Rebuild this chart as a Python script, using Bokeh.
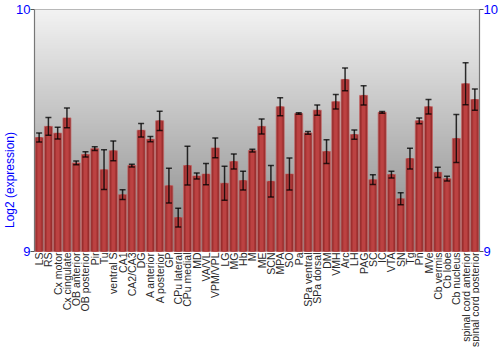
import numpy as np
from bokeh.plotting import figure
from bokeh.models import (Range1d, FixedTicker, LinearAxis, Span,
                          ColumnDataSource)
from bokeh.embed import file_html
from bokeh.resources import INLINE

regions = ["LS", "RS", "Cx motor", "Cx cingulate", "OB anterior", "OB posterior",
           "Pir", "Tu", "ventral S", "CA1", "CA2/CA3", "DG", "A anterior",
           "A posterior", "GP", "CPu lateral", "CPu medial", "MD", "VA/VL",
           "VPM/VPL", "LG", "MG", "Hb", "M", "ME", "SCN", "MPA", "SO", "Pa",
           "SPa ventral", "SPa dorsal", "DM", "VMH", "Arc", "LH", "PAG", "SC",
           "IC", "VTA", "SN", "Tg", "Pn", "MVe", "Cb vermis", "Cb lobe",
           "Cb nucleus", "spinal cord anterior", "spinal cord posterior"]
expression = [9.471, 9.517, 9.489, 9.552, 9.366, 9.401, 9.425, 9.338, 9.416,
              9.235, 9.355, 9.501, 9.464, 9.540, 9.272, 9.140, 9.355, 9.312,
              9.320, 9.428, 9.282, 9.372, 9.293, 9.417, 9.517, 9.290, 9.598,
              9.320, 9.570, 9.490, 9.584, 9.413, 9.619, 9.711, 9.483, 9.645,
              9.297, 9.575, 9.318, 9.218, 9.384, 9.540, 9.598, 9.327, 9.301,
              9.467, 9.693, 9.628]
error = [0.019, 0.037, 0.024, 0.041, 0.008, 0.011, 0.008, 0.082, 0.041, 0.020,
         0.006, 0.028, 0.011, 0.040, 0.072, 0.039, 0.080, 0.012, 0.044, 0.041,
         0.070, 0.031, 0.039, 0.006, 0.031, 0.065, 0.037, 0.066, 0.003, 0.006,
         0.021, 0.049, 0.030, 0.047, 0.019, 0.040, 0.020, 0.004, 0.014, 0.025,
         0.043, 0.012, 0.030, 0.021, 0.010, 0.099, 0.087, 0.044]
y_ticks = [9, 10]
y_min, y_max = 9, 10

n = len(regions)
xs = [i + 0.5 for i in range(n)]
src = ColumnDataSource(dict(
    x=xs, top=expression, name=regions, base=[y_min] * n,
    lower=[v - e for v, e in zip(expression, error)],
    upper=[v + e for v, e in zip(expression, error)],
))

# The value axis spans 9..10 over the upper part of the frame; the space
# below 9 holds the rotated region names.
plot_top_px, axis_px, total_px = 9, 242, 350
below = (total_px - plot_top_px - axis_px) / axis_px * (y_max - y_min)

p = figure(width=500, height=350, output_backend="svg", toolbar_location=None,
           x_range=Range1d(0, n), y_range=Range1d(y_min - below, y_max),
           min_border_top=plot_top_px, min_border_right=20, min_border_left=34,
           min_border_bottom=0)
p.outline_line_color = None
p.background_fill_color = None
p.border_fill_color = "white"
p.grid.visible = False

# background vertical gradient (value region only)
h = 200
top_c = np.array([243, 243, 243])
bot_c = np.array([134, 134, 134])
t = np.linspace(0, 1, h)[:, None]
cols = (bot_c * (1 - t) + top_c * t).astype(np.uint32)
img = np.empty((h, 1), dtype=np.uint32)
view = img.view(dtype=np.uint8).reshape((h, 1, 4))
view[:, 0, 0] = cols[:, 0]
view[:, 0, 1] = cols[:, 1]
view[:, 0, 2] = cols[:, 2]
view[:, 0, 3] = 255
p.image_rgba(image=[img], x=0, y=y_min, dw=n, dh=y_max - y_min)

# bars with horizontal shading
p.vbar(x="x", top="top", bottom=y_min, width=0.86, source=src,
       fill_color="#8c2828", line_color="#c46666", line_width=0.8)
p.vbar(x="x", top="top", bottom=y_min, width=0.64, source=src,
       fill_color="#a83434", line_color=None)
p.vbar(x="x", top="top", bottom=y_min, width=0.36, source=src,
       fill_color="#bc4242", line_color=None)

# error bars
p.segment(x0="x", y0="lower", x1="x", y1="upper", source=src,
          line_color="black", line_alpha=0.8, line_width=1.5)
p.scatter(x="x", y="upper", source=src, marker="dash", size=6,
          line_color="black", line_alpha=0.75, line_width=1.5)
p.scatter(x="x", y="lower", source=src, marker="dash", size=6,
          line_color="black", line_alpha=0.75, line_width=1.5)

p.add_layout(Span(location=y_max, dimension="width", line_color="#777777", line_width=1.2))

# region names, rotated, below the bars
p.text(x="x", y="base", text="name", source=src, angle=np.pi / 2,
       y_offset=1, text_align="right", text_baseline="middle",
       text_font={"value": "Liberation Sans"}, text_font_size={"value": "10.5px"},
       text_color="#2a2a2a")
p.xaxis.visible = False

y_ax = p.yaxis[0]
y_ax.axis_label = "Log2 (expression)"
y_ax.axis_label_text_font = "Liberation Sans"
y_ax.axis_label_text_font_size = "12px"
y_ax.axis_label_text_font_style = "normal"
y_ax.axis_label_text_color = "#0000ff"
y_ax.axis_label_standoff = -4

r_ax = LinearAxis()
p.add_layout(r_ax, "right")
for ax in [y_ax, r_ax]:
    ax.ticker = FixedTicker(ticks=y_ticks)
    ax.bounds = (y_min, y_max)
    ax.axis_line_color = "#777777"
    ax.axis_line_width = 1.2
    ax.major_tick_line_color = "#555555"
    ax.major_tick_in = 0
    ax.major_tick_out = 4
    ax.minor_tick_line_color = None
    ax.major_label_text_font = "Liberation Sans"
    ax.major_label_text_font_size = "13px"
    ax.major_label_text_color = "#0000ff"
    ax.major_label_standoff = 0

open("out.html", "w").write(file_html(p, INLINE))
